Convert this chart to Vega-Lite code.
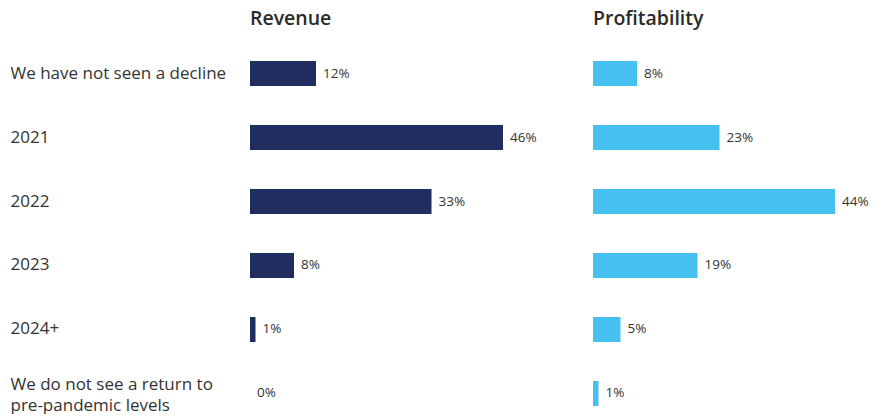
{
  "$schema": "https://vega.github.io/schema/vega-lite/v6.json",
  "padding": {"left": 10, "top": 8, "right": 0, "bottom": 0},
  "background": "white",
  "spacing": 46,
  "config": {
    "view": {"stroke": null},
    "font": "Open Sans",
    "title": {"anchor": "start", "frame": "group", "fontSize": 19.5, "fontWeight": 600, "color": "#2a2a2a", "offset": 32}
  },
  "data": {
    "values": [
      {"category": "We have not seen a decline", "metric": "Revenue", "value": 0.12},
      {"category": "2021", "metric": "Revenue", "value": 0.46},
      {"category": "2022", "metric": "Revenue", "value": 0.33},
      {"category": "2023", "metric": "Revenue", "value": 0.08},
      {"category": "2024+", "metric": "Revenue", "value": 0.01},
      {"category": "We do not see a return to pre-pandemic levels", "metric": "Revenue", "value": 0},
      {"category": "We have not seen a decline", "metric": "Profitability", "value": 0.08},
      {"category": "2021", "metric": "Profitability", "value": 0.23},
      {"category": "2022", "metric": "Profitability", "value": 0.44},
      {"category": "2023", "metric": "Profitability", "value": 0.19},
      {"category": "2024+", "metric": "Profitability", "value": 0.05},
      {"category": "We do not see a return to pre-pandemic levels", "metric": "Profitability", "value": 0.01}
    ]
  },
  "hconcat": [
    {
      "title": "Revenue",
      "width": 297,
      "height": 345,
      "transform": [{"filter": "datum.metric == 'Revenue'"}],
      "encoding": {
        "y": {
          "field": "category", "type": "nominal", "sort": null,
          "scale": {"paddingInner": 0.609, "paddingOuter": 0},
          "axis": {
            "title": null, "domain": false, "ticks": false,
            "labelAlign": "left", "labelPadding": 240, "labelFontSize": 17,
            "labelColor": "#333333", "labelLimit": 300, "labelLineHeight": 21,
            "labelOffset": {"condition": {"test": "datum.label == 'We do not see a return to pre-pandemic levels'", "value": -8}, "value": 0},
            "labelExpr": "datum.label == 'We do not see a return to pre-pandemic levels' ? ['We do not see a return to', 'pre-pandemic levels'] : datum.label"
          }
        },
        "x": {
          "field": "value", "type": "quantitative",
          "scale": {"domain": [0, 0.54], "nice": false, "zero": true},
          "axis": null
        }
      },
      "layer": [
        {"mark": {"type": "bar", "color": "#1f2d60"}},
        {
          "mark": {"type": "text", "align": "left", "dx": 7, "fontSize": 13.5, "color": "#333333"},
          "encoding": {"text": {"field": "value", "type": "quantitative", "format": ".0%"}}
        }
      ]
    },
    {
      "title": "Profitability",
      "width": 275,
      "height": 345,
      "transform": [{"filter": "datum.metric == 'Profitability'"}],
      "encoding": {
        "y": {
          "field": "category", "type": "nominal", "sort": null,
          "scale": {"paddingInner": 0.609, "paddingOuter": 0},
          "axis": null
        },
        "x": {
          "field": "value", "type": "quantitative",
          "scale": {"domain": [0, 0.5], "nice": false, "zero": true},
          "axis": null
        }
      },
      "layer": [
        {"mark": {"type": "bar", "color": "#46c1ef"}},
        {
          "mark": {"type": "text", "align": "left", "dx": 7, "fontSize": 13.5, "color": "#333333"},
          "encoding": {"text": {"field": "value", "type": "quantitative", "format": ".0%"}}
        }
      ]
    }
  ]
}
